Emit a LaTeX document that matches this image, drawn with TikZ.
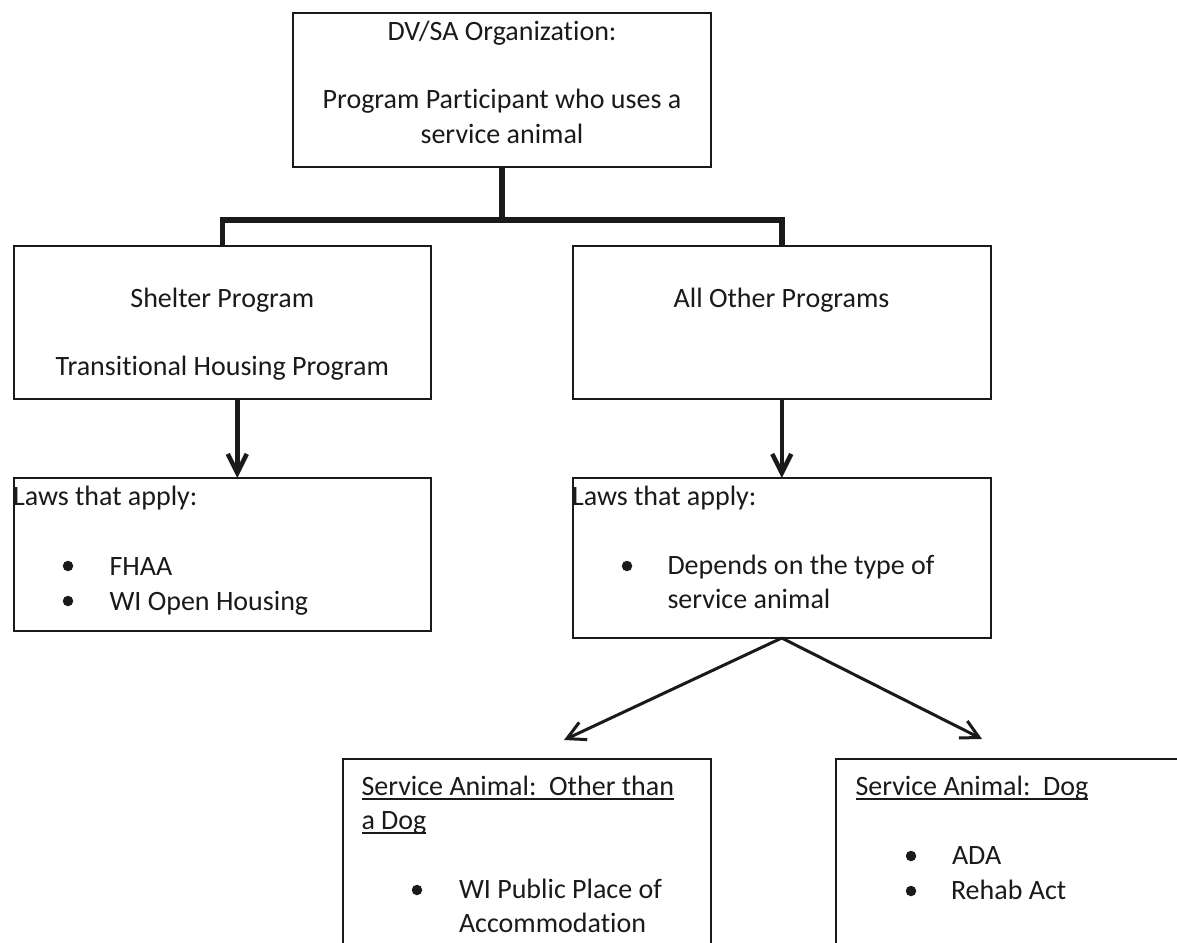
\documentclass[tikz,border=0pt]{standalone}
\usepackage{fontspec}
\setmainfont{Carlito}[Ligatures=NoCommon]
\usetikzlibrary{arrows.meta}
\definecolor{ink}{HTML}{1A1A1A}
\newsavebox\ulbox
\newcommand\myul[1]{\sbox\ulbox{#1}\rlap{\rule[-4.6pt]{\wd\ulbox}{1.8pt}}\usebox\ulbox}
\tikzset{
  box/.style={draw=ink, line width=2pt, rectangle, inner sep=0pt, outer sep=0pt},
  txt/.style={inner sep=0pt, outer sep=0pt, text=ink, anchor=base},
  ltxt/.style={inner sep=0pt, outer sep=0pt, text=ink, anchor=base west},
  bul/.style={circle, fill=ink, inner sep=0pt, minimum size=10.5pt},
  bar/.style={draw=ink, line width=5.5pt, line join=miter},
  varrow/.style={draw=ink, line width=4.5pt, -{Straight Barb[length=19pt,width=19pt]}},
  darrow/.style={draw=ink, line width=3pt, -{Straight Barb[length=18pt,width=19pt]}}
}
\begin{document}
\begin{tikzpicture}[x=1pt,y=-1pt,font=\fontsize{28}{34}\selectfont]
\useasboundingbox (0,0) rectangle (1177,942);
\fill[white] (0,0) rectangle (1177,942);
\begin{scope}
\clip (0,0) rectangle (1177,942);
% boxes
\node[box, minimum width=418pt, minimum height=153.5pt] (top) at (502,90.25) {};
\node[box, minimum width=417.5pt, minimum height=153pt] (left) at (222.25,322.5) {};
\node[box, minimum width=418.5pt, minimum height=153pt] (right) at (781.75,322.5) {};
\node[box, minimum width=417.5pt, minimum height=153pt] (lawsL) at (222.25,554.5) {};
\node[box, minimum width=418.5pt, minimum height=160pt] (lawsR) at (781.75,558) {};
\node[box, minimum width=368pt, minimum height=211.5pt] (other) at (527,864.25) {};
\node[box, minimum width=374pt, minimum height=211.5pt] (dog) at (1023,864.25) {};
% texts
\node[txt] (t1) at (502,40.5) {DV/SA Organization:};
\node[txt] (t2) at (502,108) {Program Participant who uses a};
\node[txt] (t3) at (502,143) {service animal};
\node[txt] (s1) at (222.3,307) {Shelter Program};
\node[txt] (s2) at (222.3,375) {Transitional Housing Program};
\node[txt] (a1) at (781.5,307) {All Other Programs};
\node[ltxt] (l1) at (13,505) {Laws that apply:};
\node[bul] (lb1) at (68,566) {};
\node[ltxt] (l2) at (109.5,575) {FHAA};
\node[bul] (lb2) at (68,601) {};
\node[ltxt] (l3) at (109.5,610) {WI Open Housing};
\node[ltxt] (r1) at (572,505) {Laws that apply:};
\node[bul] (rb1) at (627,566) {};
\node[ltxt] (r2) at (667.5,574) {Depends on the type of};
\node[ltxt] (r3) at (667.5,608) {service animal};
\node[ltxt] (o1) at (361.5,795) {\myul{Service Animal:\ \ Other than}};
\node[ltxt] (o2) at (361.5,829) {\myul{a Dog}};
\node[bul] (ob1) at (417,890) {};
\node[ltxt] (o3) at (459,898) {WI Public Place of};
\node[ltxt] (o4) at (459,932) {Accommodation};
\node[ltxt] (d1) at (855.5,795) {\myul{Service Animal:\ \ Dog}};
\node[bul] (db1) at (911,856) {};
\node[ltxt] (d2) at (952,864) {ADA};
\node[bul] (db2) at (911,891) {};
\node[ltxt] (d3) at (951,899) {Rehab Act};
% connectors
\coordinate (j) at (502,220);
\draw[bar] (top.south) -- (j);
\draw[bar] (left.north) |- (j) -| (right.north);
\draw[varrow] ([xshift=15pt]left.south) -- ([xshift=15pt]lawsL.north);
\draw[varrow] (right.south) -- (lawsR.north);
\coordinate (tipL) at (564,740);
\coordinate (tipR) at (982,739);
\draw[darrow] (lawsR.south) -- (tipL);
\draw[darrow] (lawsR.south) -- (tipR);
\end{scope}
\end{tikzpicture}
\end{document}
